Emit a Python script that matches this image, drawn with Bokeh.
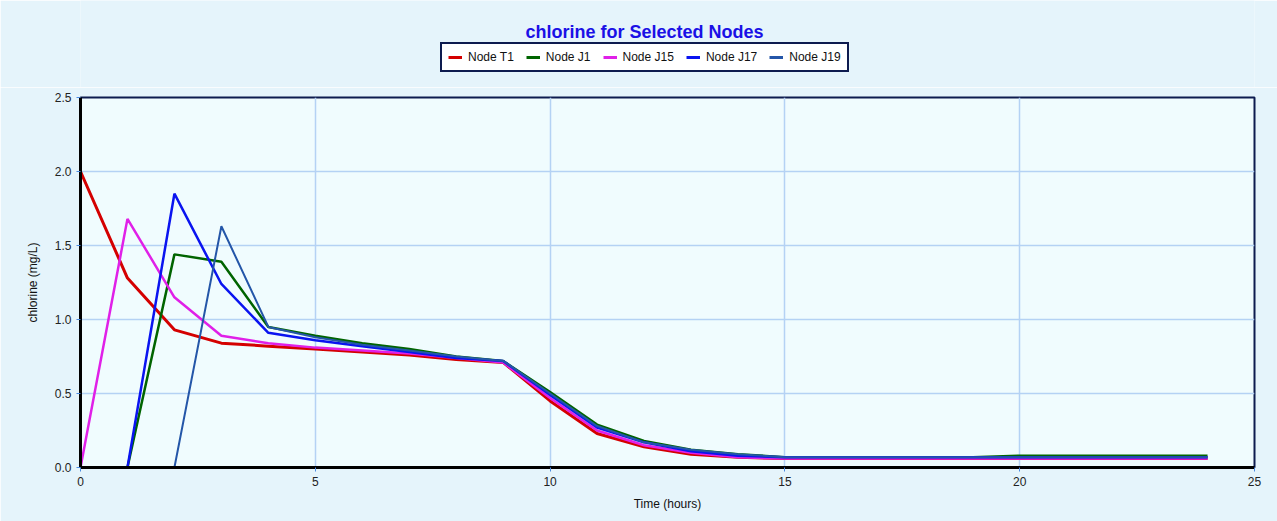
from bokeh.plotting import figure
from bokeh.layouts import column
from bokeh.models import Legend, LegendItem, Range1d, FixedTicker, CustomJSTickFormatter, Label
from bokeh.embed import file_html
from bokeh.resources import INLINE

hours = list(range(25))
t1 = [2.00, 1.28, 0.93, 0.84, 0.82, 0.80, 0.78, 0.76, 0.73, 0.71, 0.45, 0.23, 0.14, 0.09, 0.07, 0.06,
      0.06, 0.06, 0.06, 0.06, 0.06, 0.06, 0.06, 0.06, 0.06]
j1 = [0.00, 0.00, 1.44, 1.39, 0.95, 0.89, 0.84, 0.80, 0.75, 0.72, 0.51, 0.29, 0.18, 0.12, 0.09, 0.07,
      0.07, 0.07, 0.07, 0.07, 0.08, 0.08, 0.08, 0.08, 0.08]
j15 = [0.00, 1.68, 1.15, 0.89, 0.84, 0.81, 0.79, 0.77, 0.74, 0.71, 0.47, 0.25, 0.15, 0.10, 0.07, 0.06,
       0.06, 0.06, 0.06, 0.06, 0.06, 0.06, 0.06, 0.06, 0.06]
j17 = [0.00, 0.00, 1.85, 1.24, 0.91, 0.86, 0.82, 0.78, 0.74, 0.72, 0.49, 0.27, 0.17, 0.11, 0.08, 0.07,
       0.07, 0.07, 0.07, 0.07, 0.07, 0.07, 0.07, 0.07, 0.07]
j19 = [0.00, 0.00, 0.00, 1.63, 0.95, 0.88, 0.83, 0.79, 0.75, 0.72, 0.50, 0.28, 0.17, 0.12, 0.09, 0.07,
       0.07, 0.07, 0.07, 0.07, 0.07, 0.07, 0.07, 0.07, 0.07]

names = ["Node T1", "Node J1", "Node J15", "Node J17", "Node J19"]
series = [t1, j1, j15, j17, j19]
colors = ["#d40000", "#006400", "#e020e8", "#0a14f0", "#2456a8"]
widths = [3, 2.5, 2.5, 2.5, 2]
x_ticks = [0, 5, 10, 15, 20, 25]
y_ticks = [0, 0.5, 1.0, 1.5, 2.0, 2.5]

FONT = "Liberation Sans"
BG = "#e5f4fb"
TOP_H = 87
LEFT = 80  # frame left offset (column aligns frames)

# ---- header: title + legend (series drawn off-range so only the legend shows) ----
head = figure(width=1277, height=TOP_H, output_backend="svg", toolbar_location=None,
              x_axis_type=None, y_axis_type=None, x_range=Range1d(0, 25), y_range=Range1d(10, 11),
              min_border=0, background_fill_color=BG, border_fill_color=BG)
head.outline_line_color = None
head.grid.visible = False

head.add_layout(Label(x=644 - LEFT, y=TOP_H - 31, x_units="screen", y_units="screen",
                      text="chlorine for Selected Nodes", text_align="center", text_baseline="middle",
                      text_font=FONT, text_font_size="18px", text_font_style="bold",
                      text_color="#1a10e6"))

hidden = [head.line(hours, s, line_color=c, line_width=3) for s, c in zip(series, colors)]
items = [LegendItem(label=n, renderers=[r]) for n, r in zip(names, hidden)]
legend = Legend(items=items, orientation="horizontal", location=(440 - LEFT, TOP_H + 8 - 80),
                label_text_font=FONT, label_text_font_size="12px", label_text_color="#111111",
                glyph_width=14, glyph_height=10, label_standoff=6, spacing=12,
                padding=6, margin=0,
                border_line_color="#0d1b4f", border_line_width=2.5, border_line_alpha=1.0,
                background_fill_color="#ffffff", background_fill_alpha=1.0)
head.add_layout(legend, "center")

# ---- main plot ----
p = figure(width=1277, height=521 - TOP_H, output_backend="svg", toolbar_location=None,
           x_range=Range1d(0, 25), y_range=Range1d(0, 2.5),
           background_fill_color="#f0fcfe", border_fill_color=BG,
           min_border_left=LEFT, min_border_right=23, min_border_bottom=54, min_border_top=10)

for s, c, w in zip(series, colors, widths):
    p.line(hours, s, line_color=c, line_width=w)

p.outline_line_color = "#0d1b4f"
p.outline_line_width = 2

p.xaxis.ticker = FixedTicker(ticks=x_ticks)
p.yaxis.ticker = FixedTicker(ticks=y_ticks)
p.yaxis.formatter = CustomJSTickFormatter(code="return tick.toFixed(1);")

for ax in (p.xaxis, p.yaxis):
    ax.axis_line_color = "#000000"
    ax.axis_line_width = 3
    ax.major_tick_line_color = "#4a8ae0"
    ax.major_tick_out = 4
    ax.major_tick_in = 0
    ax.minor_tick_line_color = None
    ax.major_label_text_font = FONT
    ax.major_label_text_font_size = "12px"
    ax.major_label_text_color = "#222222"
    ax.axis_label_text_font = FONT
    ax.axis_label_text_font_size = "12px"
    ax.axis_label_text_font_style = "normal"
    ax.axis_label_text_color = "#111111"

p.xaxis.axis_label = "Time (hours)"
p.yaxis.axis_label = "chlorine (mg/L)"
p.xaxis.axis_label_standoff = 8
p.yaxis.axis_label_standoff = 12

p.grid.grid_line_color = "#b4d2f4"
p.grid.grid_line_width = 1.5

layout = column(head, p, spacing=0)
open("out.html", "w").write(file_html(layout, INLINE))
